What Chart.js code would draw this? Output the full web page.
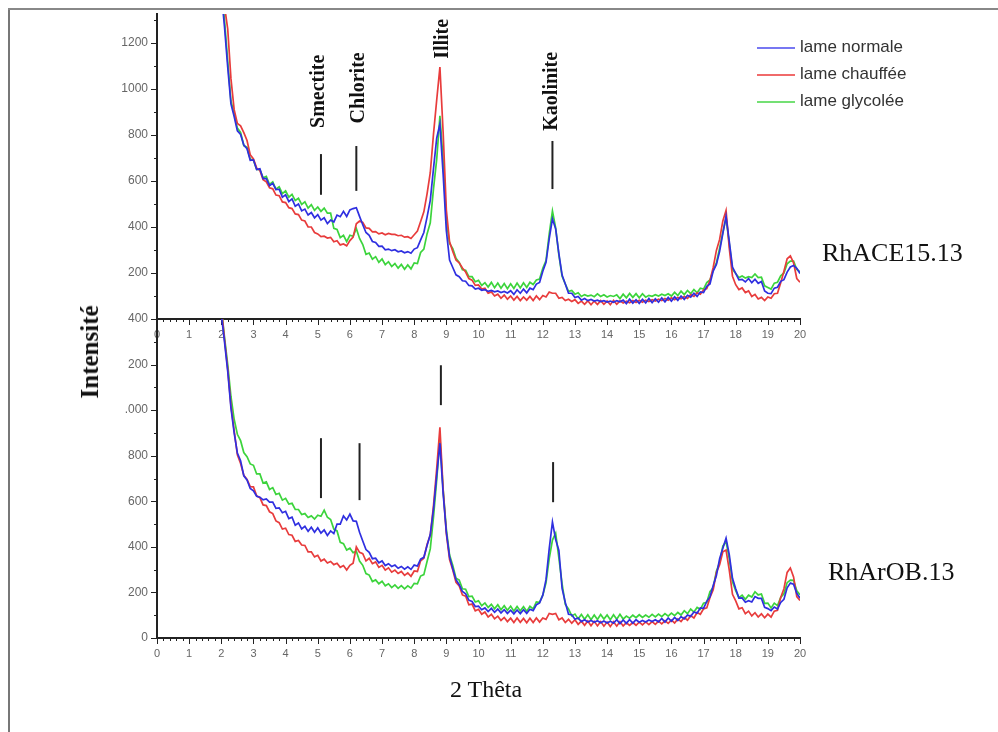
<!DOCTYPE html>
<html>
<head>
<meta charset="utf-8">
<script src="https://cdn.jsdelivr.net/npm/chart.js@4.4.1/dist/chart.umd.min.js"></script>
<style>
  body { margin: 0; background: #fff; }
  #wrap { position: relative; width: 998px; height: 732px; overflow: hidden; background: #fff; }
  canvas { position: absolute; left: 0; }
  .txt { position: absolute; white-space: nowrap; color: #111; }
  .serif { font-family: "Liberation Serif", "DejaVu Serif", serif; }
  .leg { position: absolute; left: 757px; width: 200px; height: 24px; font: 17px "Liberation Sans", Arial, sans-serif; color: #333; }
  .leg span.l { position: absolute; left: 0; top: 10px; width: 38px; height: 2px; }
  .leg span.t { position: absolute; left: 43px; top: 0; white-space: nowrap; }
</style>
</head>
<body>
<div id="wrap">
  <div style="position:absolute;left:8px;top:8px;width:2px;height:724px;background:#777"></div>
  <div style="position:absolute;left:8px;top:8px;width:990px;height:2px;background:#888"></div>
  <canvas id="top" width="998" height="345" style="top:0"></canvas>
  <canvas id="bottom" width="998" height="380" style="top:300px"></canvas>

  <div class="txt serif" style="left:90px;top:352px;font-weight:bold;font-size:25px;transform:translate(-50%,-50%) rotate(-90deg)">Intensité</div>
  <div class="txt serif" style="left:486px;top:689px;font-size:24px;transform:translate(-50%,-50%)">2 Thêta</div>
  <div class="txt serif" style="left:822px;top:253px;font-size:26px;transform:translateY(-50%)">RhACE15.13</div>
  <div class="txt serif" style="left:828px;top:572px;font-size:26px;transform:translateY(-50%)">RhArOB.13</div>

  <div class="leg" style="top:37px"><span class="l" style="background:#7777f2"></span><span class="t">lame normale</span></div>
  <div class="leg" style="top:64px"><span class="l" style="background:#f06a6a"></span><span class="t">lame chauffée</span></div>
  <div class="leg" style="top:91px"><span class="l" style="background:#74e074"></span><span class="t">lame glycolée</span></div>
</div>

<script>
// 2 theta values (degrees)
const theta = [
  2.0,2.1,2.2,2.3,2.4,2.5,2.6,2.7,2.8,2.9,
  3.0,3.1,3.2,3.3,3.4,3.5,3.6,3.7,3.8,3.9,
  4.0,4.1,4.2,4.3,4.4,4.5,4.6,4.7,4.8,4.9,
  5.0,5.1,5.2,5.3,5.4,5.5,5.6,5.7,5.8,5.9,
  6.0,6.1,6.2,6.3,6.4,6.5,6.6,6.7,6.8,6.9,
  7.0,7.1,7.2,7.3,7.4,7.5,7.6,7.7,7.8,7.9,
  8.0,8.1,8.2,8.3,8.4,8.5,8.6,8.7,8.8,8.9,
  9.0,9.1,9.2,9.3,9.4,9.5,9.6,9.7,9.8,9.9,
  10.0,10.1,10.2,10.3,10.4,10.5,10.6,10.7,10.8,10.9,
  11.0,11.1,11.2,11.3,11.4,11.5,11.6,11.7,11.8,11.9,
  12.0,12.1,12.2,12.3,12.4,12.5,12.6,12.7,12.8,12.9,
  13.0,13.1,13.2,13.3,13.4,13.5,13.6,13.7,13.8,13.9,
  14.0,14.1,14.2,14.3,14.4,14.5,14.6,14.7,14.8,14.9,
  15.0,15.1,15.2,15.3,15.4,15.5,15.6,15.7,15.8,15.9,
  16.0,16.1,16.2,16.3,16.4,16.5,16.6,16.7,16.8,16.9,
  17.0,17.1,17.2,17.3,17.4,17.5,17.6,17.7,17.8,17.9,
  18.0,18.1,18.2,18.3,18.4,18.5,18.6,18.7,18.8,18.9,
  19.0,19.1,19.2,19.3,19.4,19.5,19.6,19.7,19.8,19.9,
  20.0
];

// RhACE15.13 (top)
const aceNormale = [
  1420,1270,1095,935,880,818,802,756,740,690,
  692,650,653,610,610,580,590,563,564,530,
  540,510,522,490,500,470,478,452,463,440,
  454,430,440,415,430,422,452,445,468,446,
  474,480,484,446,410,376,364,337,333,316,
  317,301,304,297,301,292,296,288,293,286,
  304,310,344,376,443,516,654,786,848,630,
  384,256,224,192,184,166,164,146,144,130,
  134,125,128,120,124,118,122,115,120,113,
  123,107,127,112,130,114,134,128,152,159,
  208,246,349,435,392,284,191,152,112,112,
  93,98,82,89,80,85,78,82,76,80,
  74,78,73,80,75,82,67,86,69,84,
  68,86,70,89,71,88,73,92,75,94,
  78,96,81,100,85,103,95,112,98,118,
  115,142,152,208,237,294,372,446,338,226,
  198,170,172,161,176,158,173,155,163,122,
  112,110,134,138,164,171,204,226,233,220,
  198
];
const aceChauffee = [
  1600,1360,1260,1045,910,850,840,810,776,714,
  696,656,646,606,596,570,566,539,536,509,
  506,484,480,457,454,430,426,400,400,376,
  370,358,360,352,355,336,340,322,326,318,
  341,356,414,426,420,396,394,379,380,370,
  374,366,372,368,368,362,364,356,358,350,
  366,382,424,466,544,636,804,952,1095,812,
  474,336,294,256,244,222,204,176,169,146,
  148,130,134,112,118,100,108,90,104,86,
  100,82,98,80,96,82,98,80,100,84,
  102,96,117,112,112,90,94,80,86,76,
  84,68,78,64,79,62,78,63,80,64,
  78,62,81,64,79,70,77,71,80,72,
  81,73,82,76,84,78,86,80,89,82,
  92,84,94,88,98,90,106,98,114,108,
  126,132,168,224,298,346,426,472,308,186,
  149,128,135,115,122,98,107,87,94,80,
  96,90,110,112,158,208,262,274,244,176,
  160
];
const aceGlycolee = [
  1450,1300,1120,948,892,830,811,754,746,695,
  690,650,650,614,620,585,596,564,575,545,
  557,530,542,515,525,498,509,482,497,472,
  487,468,482,460,460,394,389,354,364,336,
  364,360,394,350,324,281,287,260,271,246,
  261,236,249,228,241,221,237,216,235,218,
  244,241,289,304,370,418,566,694,883,690,
  426,328,306,264,246,214,212,184,184,162,
  168,146,158,139,159,136,156,134,154,132,
  153,133,156,135,157,137,160,150,170,174,
  220,254,370,470,396,278,186,152,120,124,
  108,114,98,106,100,104,97,109,98,105,
  96,102,98,105,89,108,92,111,94,110,
  92,110,95,103,99,106,100,108,102,110,
  100,116,102,121,106,124,110,128,114,134,
  130,158,170,212,244,308,376,440,328,216,
  198,180,187,178,184,180,196,180,182,144,
  137,130,156,160,188,200,240,252,252,215,
  205
];

// RhArOB.13 (bottom)
const arobNormale = [
  1420,1300,1170,1010,900,812,778,712,694,656,
  646,622,618,606,610,596,596,569,571,550,
  556,524,530,495,505,479,490,468,486,464,
  484,460,474,450,470,458,500,500,536,518,
  544,514,512,464,426,388,376,348,350,330,
  338,318,326,314,320,306,314,302,312,301,
  320,316,346,354,406,454,566,714,855,634,
  464,356,304,256,234,204,194,166,160,138,
  140,124,132,116,130,113,127,110,124,108,
  122,106,123,107,124,108,126,120,146,154,
  188,256,392,509,432,384,218,156,104,102,
  82,88,72,80,70,77,69,76,67,75,
  66,74,65,80,63,79,64,81,65,80,
  69,77,70,79,72,80,71,86,70,88,
  74,90,77,94,84,101,95,114,109,132,
  130,161,180,230,274,348,394,438,366,262,
  216,175,176,157,164,158,182,174,174,135,
  129,120,136,127,156,170,220,241,236,196,
  175
];
const arobChauffee = [
  1450,1310,1180,1020,910,804,766,714,696,664,
  663,624,616,584,581,554,546,514,506,478,
  482,454,451,424,428,408,406,378,378,356,
  363,338,346,329,336,322,328,310,318,298,
  319,328,400,376,370,338,350,326,334,310,
  319,298,308,289,298,283,292,275,286,271,
  294,292,339,350,410,452,580,744,925,652,
  458,344,298,244,228,189,184,146,149,119,
  126,104,114,92,104,84,96,77,90,72,
  87,68,88,69,86,67,87,68,88,70,
  88,82,108,104,108,80,88,68,82,65,
  80,60,74,56,75,54,73,53,72,52,
  70,50,71,52,72,53,67,55,68,56,
  70,58,71,59,72,60,74,62,76,64,
  78,66,84,72,90,78,98,88,112,104,
  128,132,178,212,288,322,378,386,298,192,
  163,128,133,107,118,97,111,92,106,89,
  105,92,118,122,178,216,288,307,268,182,
  165
];
const arobGlycolee = [
  1450,1320,1200,1060,960,894,866,814,796,764,
  758,720,720,680,685,652,660,630,635,605,
  613,588,591,564,564,542,546,529,536,522,
  539,534,561,530,520,478,470,420,414,386,
  394,374,381,338,319,283,276,248,255,238,
  249,229,238,221,233,218,230,216,229,219,
  240,238,272,278,336,391,530,694,877,652,
  478,364,318,262,254,216,214,182,184,158,
  163,142,154,134,148,128,146,124,142,122,
  140,118,138,119,137,117,139,128,158,157,
  188,242,348,430,460,352,238,147,128,97,
  105,84,103,82,102,80,101,81,103,83,
  101,80,102,82,104,83,96,87,100,89,
  102,90,101,91,104,93,105,94,107,96,
  109,98,112,101,120,107,127,114,134,126,
  153,157,203,222,293,332,403,423,348,247,
  208,177,188,170,188,180,203,189,193,152,
  153,132,153,142,178,194,243,254,253,207,
  190
];

// tick labels
const xLabels = ['0','1','2','3','4','5','6','7','8','9','10','11','12','13','14','15','16','17','18','19','20'];
const topYLabels = ['', '200', '400', '600', '800', '1000', '1200'];
const bottomYLabels = ['0', '200', '400', '600', '800', '.000', '200', '400'];

// mineral markers: [theta, from, to]
const topMarkLines = [[5.1, 540, 717], [6.2, 557, 752], [12.3, 565, 774]];
const topMarkNames = [['Smectite', 5.03, 990], ['Chlorite', 6.27, 1005], ['Illite', 8.9, 1218], ['Kaolinite', 12.29, 990]];
const bottomMarkLines = [[5.1, 614, 877], [6.3, 605, 855], [8.83, 1022, 1197], [12.32, 596, 772]];

const BLUE = '#2f2fe0';
const RED = '#e83c3c';
const GREEN = '#3cd43c';

function points(values) {
  return theta.map((t, i) => ({ x: t, y: values[i] }));
}

// small axis ticks + vertical marker lines and names
const xrdMarks = {
  id: 'xrdMarks',
  afterDraw(chart, args, opts) {
    const ctx = chart.ctx;
    const xs = chart.scales.x;
    const ys = chart.scales.y;
    ctx.save();
    ctx.strokeStyle = '#222';
    ctx.lineWidth = 1;
    ctx.beginPath();
    for (let i = 0; i <= 100; i++) {
      let px = Math.round(xs.getPixelForValue(i / 5)) + 0.5;
      let len = (i % 5 == 0) ? 6 : 3;
      ctx.moveTo(px, xs.top);
      ctx.lineTo(px, xs.top + len);
    }
    for (let v = 0; v <= ys.max; v += 100) {
      let py = Math.round(ys.getPixelForValue(v)) + 0.5;
      let len = (v % 200 == 0) ? 6 : 3;
      ctx.moveTo(ys.right - len, py);
      ctx.lineTo(ys.right, py);
    }
    ctx.stroke();

    ctx.strokeStyle = '#222';
    ctx.lineWidth = 2;
    opts.lines.forEach(m => {
      let px = xs.getPixelForValue(m[0]);
      ctx.beginPath();
      ctx.moveTo(px, ys.getPixelForValue(m[1]));
      ctx.lineTo(px, ys.getPixelForValue(m[2]));
      ctx.stroke();
    });

    ctx.fillStyle = '#111';
    ctx.font = 'bold 20px "Liberation Serif", serif';
    ctx.textAlign = 'center';
    ctx.textBaseline = 'middle';
    opts.names.forEach(n => {
      ctx.save();
      ctx.translate(xs.getPixelForValue(n[1]), ys.getPixelForValue(n[2]));
      ctx.rotate(-Math.PI / 2);
      ctx.fillText(n[0], 0, 0);
      ctx.restore();
    });
    ctx.restore();
  }
};

function makeChart(id, series, yMax, yLabels, padTop, xHeight, lines, names) {
  return new Chart(document.getElementById(id), {
    type: 'line',
    data: {
      datasets: [
        { label: 'lame normale', data: points(series[0]), borderColor: BLUE },
        { label: 'lame chauffée', data: points(series[1]), borderColor: RED },
        { label: 'lame glycolée', data: points(series[2]), borderColor: GREEN }
      ]
    },
    options: {
      responsive: false,
      animation: false,
      layout: { padding: { top: padTop, right: 198, left: 0, bottom: 0 } },
      elements: {
        line: { borderWidth: 1.7, tension: 0, fill: false },
        point: { radius: 0 }
      },
      scales: {
        x: {
          type: 'linear',
          min: 0,
          max: 20,
          afterFit: s => { s.height = xHeight; },
          border: { display: true, color: '#222', width: 2 },
          grid: { drawOnChartArea: false, drawTicks: true, tickLength: 6, color: 'rgba(0,0,0,0)' },
          ticks: {
            stepSize: 1,
            autoSkip: false,
            maxRotation: 0,
            padding: 3,
            color: '#666',
            font: { family: 'Liberation Sans', size: 11 },
            callback: (v) => xLabels[v] ?? ''
          }
        },
        y: {
          min: 0,
          max: yMax,
          afterFit: s => { s.width = 157; },
          border: { display: true, color: '#222', width: 2 },
          grid: { drawOnChartArea: false, drawTicks: true, tickLength: 6, color: 'rgba(0,0,0,0)' },
          ticks: {
            stepSize: 200,
            includeBounds: false,
            padding: 3,
            color: '#666',
            font: { family: 'Liberation Sans', size: 12 },
            callback: (v) => (v % 200 == 0 ? (yLabels[v / 200] ?? '') : '')
          }
        }
      },
      plugins: {
        legend: { display: false },
        tooltip: { enabled: false },
        xrdMarks: { lines: lines, names: names }
      }
    },
    plugins: [xrdMarks]
  });
}

makeChart('top', [aceNormale, aceChauffee, aceGlycolee], 1326, topYLabels, 14, 26, topMarkLines, topMarkNames);
makeChart('bottom', [arobNormale, arobChauffee, arobGlycolee], 1400, bottomYLabels, 19, 42, bottomMarkLines, []);
</script>
</body>
</html>
